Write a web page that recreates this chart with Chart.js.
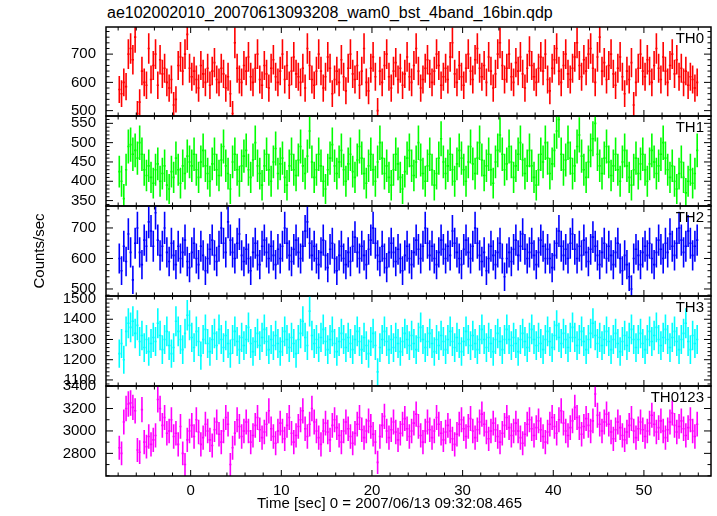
<!DOCTYPE html>
<html>
<head>
<meta charset="utf-8">
<script src="https://cdn.jsdelivr.net/npm/chart.js@4.4.1/dist/chart.umd.min.js"></script>
<style>
  body { margin: 0; background: #fff; }
  #wrap { position: relative; width: 717px; height: 516px; background: #fff; overflow: hidden; }
  #wrap canvas { position: absolute; left: 0; }
  .txt { position: absolute; font: 15px 'Liberation Sans', Arial, sans-serif; line-height: 17px; color: #000; white-space: nowrap; }
</style>
</head>
<body>
<div id="wrap">
  <div class="txt" style="left:107px; top:4px; font-size:16px;">ae102002010_20070613093208_wam0_bst_4band_16bin.qdp</div>
  <canvas id="c0"></canvas>
  <canvas id="c1"></canvas>
  <canvas id="c2"></canvas>
  <canvas id="c3"></canvas>
  <canvas id="c4"></canvas>
  <div class="txt" style="left:257px; top:494px;">Time [sec] 0 = 2007/06/13 09:32:08.465</div>
</div>
<script>
// light curve, 0.25 s bins starting at t = -7.875 s (bin centre)
const binSize = 0.25;
const firstBin = -7.875;

// counts/sec per band (8 bins = 2 s per row)
const th0 = [
  575, 560, 600, 585, 700, 720, 680, 760,
  490, 530, 640, 600, 590, 720, 610, 660,
  700, 590, 680, 630, 650, 600, 580, 610,
  520, 540, 660, 690, 640, 700, 770, 650,
  620, 640, 610, 580, 660, 630, 600, 650,
  590, 640, 670, 610, 600, 650, 630, 580,
  620, 560, 490, 740, 650, 610, 600, 660,
  640, 690, 620, 600, 650, 700, 610, 590,
  660, 630, 580, 650, 680, 620, 600, 640,
  700, 610, 660, 590, 640, 690, 630, 620,
  600, 650, 580, 720, 660, 610, 590, 640,
  700, 640, 580, 620, 690, 650, 560, 610,
  640, 600, 680, 620, 570, 650, 700, 630,
  610, 660, 590, 640, 720, 600, 570, 650,
  690, 620, 500, 640, 600, 660, 700, 620,
  580, 640, 670, 610, 650, 590, 630, 690,
  620, 600, 660, 720, 640, 580, 610, 650,
  680, 630, 600, 640, 700, 660, 590, 620,
  650, 610, 690, 740, 630, 600, 660, 620,
  590, 650, 700, 640, 610, 680, 720, 650,
  620, 660, 600, 690, 640, 580, 630, 700,
  740, 660, 610, 650, 700, 620, 600, 670,
  640, 690, 630, 580, 650, 710, 660, 620,
  600, 650, 690, 640, 700, 610, 570, 650,
  680, 720, 640, 600, 660, 700, 630, 610,
  650, 690, 740, 660, 620, 680, 640, 700,
  720, 650, 600, 690, 760, 640, 670, 610,
  660, 700, 630, 590, 650, 690, 620, 560,
  640, 610, 670, 520, 600, 650, 700, 640,
  620, 680, 640, 600, 660, 720, 650, 610,
  690, 640, 600, 660, 700, 630, 680, 620,
  650, 600, 640, 590, 620, 610, 580, 600
];
const th1 = [
  425, 400, 355, 430, 490, 495, 470, 480,
  460, 500, 470, 430, 415, 440, 410, 395,
  430, 445, 400, 420, 440, 390, 380, 425,
  410, 460, 430, 395, 440, 420, 465, 450,
  440, 470, 430, 410, 450, 480, 440, 420,
  400, 445, 470, 430, 415, 455, 490, 440,
  420, 380, 450, 470, 430, 400, 440, 465,
  480, 430, 410, 455, 500, 440, 420, 390,
  440, 470, 430, 400, 450, 485, 420, 445,
  460, 410, 390, 440, 470, 430, 415, 455,
  490, 440, 420, 465, 530, 450, 410, 430,
  470, 440, 400, 380, 430, 460, 495, 440,
  420, 450, 480, 430, 400, 445, 470, 425,
  410, 455, 490, 460, 420, 395, 440, 470,
  430, 400, 450, 500, 460, 420, 440, 410,
  390, 430, 470, 445, 410, 380, 425, 460,
  480, 440, 415, 450, 500, 455, 420, 400,
  440, 470, 430, 390, 420, 460, 510, 450,
  420, 440, 470, 430, 400, 445, 480, 460,
  430, 400, 450, 490, 445, 420, 460, 500,
  455, 415, 440, 470, 430, 395, 450, 480,
  520, 470, 430, 445, 490, 450, 410, 440,
  470, 500, 455, 420, 440, 480, 440, 410,
  390, 430, 470, 450, 500, 460, 420, 445,
  480, 530, 560, 470, 430, 455, 500, 460,
  420, 440, 490, 520, 465, 430, 410, 450,
  480, 510, 550, 470, 440, 420, 460, 490,
  450, 415, 440, 470, 430, 400, 450, 480,
  440, 410, 390, 430, 460, 420, 445, 470,
  430, 400, 445, 480, 450, 420, 440, 470,
  500, 460, 430, 410, 440, 400, 380, 420,
  450, 410, 370, 400, 430, 395, 420, 480
];
const th2 = [
  600, 560, 640, 590, 680, 620, 530, 650,
  700, 620, 580, 660, 640, 720, 690, 640,
  750, 660, 610, 640, 700, 620, 590, 650,
  610, 580, 640, 600, 620, 660, 590, 570,
  620, 650, 600, 580, 640, 610, 560, 600,
  630, 660, 610, 590, 640, 700, 650, 620,
  720, 660, 620, 600, 650, 680, 610, 590,
  630, 600, 560, 620, 650, 610, 580, 640,
  660, 620, 600, 640, 610, 580, 630, 600,
  640, 700, 650, 610, 590, 630, 660, 620,
  600, 640, 690, 720, 650, 610, 640, 600,
  580, 620, 660, 610, 570, 630, 650, 600,
  560, 610, 640, 600, 580, 620, 590, 640,
  670, 620, 600, 640, 610, 580, 630, 660,
  700, 650, 610, 590, 640, 600, 570, 620,
  650, 620, 590, 630, 600, 560, 610, 640,
  600, 580, 620, 660, 630, 600, 640, 700,
  650, 610, 640, 600, 580, 620, 660, 630,
  600, 640, 610, 690, 650, 620, 600, 580,
  630, 660, 620, 600, 640, 700, 650, 610,
  590, 620, 560, 600, 640, 610, 580, 620,
  650, 600, 540, 600, 620, 590, 630, 660,
  610, 640, 680, 630, 600, 620, 650, 610,
  580, 620, 660, 640, 600, 630, 600, 570,
  610, 650, 690, 640, 610, 630, 600, 650,
  680, 630, 600, 640, 610, 660, 620, 590,
  630, 670, 640, 610, 580, 620, 650, 600,
  640, 610, 580, 620, 650, 600, 560, 610,
  580, 540, 500, 600, 630, 610, 580, 620,
  640, 610, 650, 600, 580, 620, 660, 630,
  600, 650, 620, 680, 640, 610, 650, 700,
  660, 620, 640, 690, 650, 610, 640, 660
];
const th3 = [
  1230, 1280, 1200, 1340, 1380, 1360, 1390, 1330,
  1370, 1290, 1320, 1260, 1300, 1240, 1280, 1310,
  1290, 1380, 1320, 1250, 1300, 1340, 1270, 1230,
  1260, 1390, 1340, 1300, 1250, 1330, 1420, 1370,
  1310, 1260, 1340, 1290, 1220, 1300, 1350, 1280,
  1240, 1300, 1330, 1270, 1350, 1300, 1260, 1320,
  1280, 1230, 1300, 1340, 1290, 1250, 1310, 1270,
  1300, 1360, 1280, 1240, 1290, 1330, 1270, 1310,
  1350, 1290, 1250, 1300, 1270, 1320, 1280, 1240,
  1290, 1340, 1300, 1260, 1310, 1280, 1230, 1300,
  1330, 1390, 1310, 1270, 1440, 1320, 1280, 1300,
  1260, 1310, 1350, 1290, 1250, 1300, 1340, 1280,
  1240, 1290, 1330, 1300, 1260, 1310, 1280, 1250,
  1300, 1340, 1290, 1250, 1310, 1270, 1230, 1290,
  1330, 1270, 1140, 1260, 1300, 1340, 1290, 1250,
  1300, 1260, 1310, 1280, 1240, 1290, 1330, 1300,
  1270, 1320, 1280, 1250, 1310, 1360, 1300, 1260,
  1290, 1330, 1280, 1240, 1300, 1270, 1320, 1290,
  1250, 1300, 1340, 1290, 1260, 1310, 1280, 1240,
  1290, 1340, 1300, 1270, 1320, 1280, 1250, 1300,
  1350, 1300, 1260, 1310, 1280, 1240, 1300, 1330,
  1290, 1250, 1300, 1350, 1300, 1270, 1310, 1280,
  1240, 1300, 1330, 1290, 1260, 1310, 1350, 1300,
  1270, 1310, 1280, 1250, 1300, 1340, 1290, 1260,
  1320, 1370, 1310, 1280, 1330, 1300, 1260, 1310,
  1360, 1310, 1270, 1300, 1340, 1290, 1250, 1300,
  1330, 1380, 1320, 1280, 1310, 1270, 1300, 1340,
  1290, 1250, 1300, 1330, 1280, 1240, 1290, 1320,
  1270, 1310, 1350, 1300, 1260, 1300, 1330, 1280,
  1250, 1300, 1340, 1290, 1320, 1360, 1300, 1270,
  1310, 1350, 1300, 1260, 1310, 1340, 1290, 1250,
  1300, 1330, 1380, 1290, 1250, 1320, 1280, 1300
];
const th0123 = [
  2850, 2800, 3080, 3200, 3240, 3250, 3210, 3180,
  2830, 2810, 3190, 2900, 2860, 2950, 2880, 2920,
  2960, 3280, 3200, 3050, 3120, 2980, 3000, 3100,
  2950, 2980, 2880, 3040, 2800, 2700, 2920, 3000,
  3050, 2950, 3100, 2990, 2880, 2940, 3060, 3000,
  2920, 2870, 3010, 3080, 2970, 2900, 3000, 3120,
  3060, 2700, 2850, 2980, 3100, 3040, 2950, 3000,
  3080, 3000, 2900, 2960, 3050, 3120, 3010, 2940,
  2990, 3060, 3180, 3020, 2950, 2890, 3000, 3070,
  3000, 2930, 3050, 3120, 2980, 2900, 2960, 3040,
  3100, 3180, 3020, 2950, 3060, 3200, 3080, 3000,
  2940, 2880, 3000, 3070, 2990, 2920, 3050, 3100,
  3030, 2960, 2900, 3000, 3080, 3020, 2950, 2890,
  2980, 3060, 3120, 3010, 2940, 3000, 3090, 3040,
  2970, 2900, 2720, 2950, 3050, 3130, 3000, 2940,
  3010, 3080, 2990, 2920, 2980, 3060, 3110, 3020,
  2950, 3000, 3070, 3150, 3040, 2960, 2900, 3000,
  3080, 3010, 2940, 3000, 3120, 3060, 2980, 2920,
  2990, 3050, 3000, 2930, 2880, 2970, 3060, 3100,
  3020, 2950, 3040, 3110, 3000, 2940, 3010, 3080,
  3150, 3060, 2990, 2930, 3000, 3070, 3010, 2950,
  2900, 2980, 3050, 3120, 3030, 2960, 3000, 3070,
  3000, 2940, 2890, 2970, 3060, 3100, 3020, 2960,
  3030, 3090, 3010, 2950, 2900, 2990, 3060, 3120,
  3040, 2980, 3100, 3180, 3070, 3000, 2960, 3030,
  3090, 3210, 3120, 3030, 2970, 3040, 3110, 3050,
  3000, 3090, 3330, 3140, 3060, 3000, 3080, 3150,
  3060, 2990, 2930, 3010, 3080, 3030, 2960, 2920,
  2990, 3050, 3110, 3000, 2940, 3020, 3080, 3010,
  2950, 3000, 3070, 3140, 3060, 2990, 3030, 3090,
  3000, 2940, 3010, 3080, 3160, 3050, 2990, 3040,
  3090, 3020, 2960, 3030, 3100, 3000, 2950, 3060
];

// tick labels
const timeTicks = [0, 10, 20, 30, 40, 50];
const th0Ticks = [500, 600, 700];
const th1Ticks = [350, 400, 450, 500, 550];
const th2Ticks = [500, 600, 700];
const th3Ticks = [1100, 1200, 1300, 1400, 1500];
const th0123Ticks = [2800, 3000, 3200, 3400];

const times = th0.map((v, i) => firstBin + i * binSize);

const panels = [
  { name: 'TH0', values: th0, ticks: th0Ticks, color: '#ff0000', min: 481, max: 796, minor: 20, top: 27, bottom: 116 },
  { name: 'TH1', values: th1, ticks: th1Ticks, color: '#00ff00', min: 336, max: 569, minor: 10, top: 116, bottom: 206 },
  { name: 'TH2', values: th2, ticks: th2Ticks, color: '#0000ff', min: 477, max: 772, minor: 20, top: 206, bottom: 296 },
  { name: 'TH3', values: th3, ticks: th3Ticks, color: '#00ffff', min: 1070, max: 1515, minor: 20, top: 296, bottom: 386 },
  { name: 'TH0123', values: th0123, ticks: th0123Ticks, color: '#ff00ff', min: 2598, max: 3401, minor: 100, top: 386, bottom: 476 }
];

const FONT = "'Liberation Sans', Arial, sans-serif";
const FSIZE = 15;

// one cross per bin: horizontal bar over the bin width, vertical bar = poisson error
const errorBars = {
  id: 'errorBars',
  afterDatasetsDraw(chart) {
    const { ctx, chartArea: a, scales: { x, y } } = chart;
    const ds = chart.data.datasets[0];
    ctx.save();
    ctx.beginPath();
    ctx.rect(a.left, a.top, a.right - a.left, a.bottom - a.top);
    ctx.clip();
    ctx.strokeStyle = ds.borderColor;
    ctx.lineWidth = 1.6;
    ctx.beginPath();
    ds.data.forEach(p => {
      const err = Math.sqrt(p.y / binSize);
      const yc = y.getPixelForValue(p.y);
      const xc = x.getPixelForValue(p.x);
      ctx.moveTo(x.getPixelForValue(p.x - binSize / 2), yc);
      ctx.lineTo(x.getPixelForValue(p.x + binSize / 2), yc);
      ctx.moveTo(xc, y.getPixelForValue(p.y + err));
      ctx.lineTo(xc, y.getPixelForValue(p.y - err));
    });
    ctx.stroke();
    ctx.restore();
  }
};

// frame with inward ticks on all four sides, plus the band name
const frame = {
  id: 'frame',
  afterDraw(chart, args, opts) {
    const { ctx, chartArea: a, scales: { x, y } } = chart;
    ctx.save();
    ctx.strokeStyle = '#000';
    ctx.lineWidth = 1;
    ctx.beginPath();
    for (let v = -8; v <= 56; v += 2) {
      const px = x.getPixelForValue(v);
      const len = v % 10 === 0 ? 6 : 3.5;
      ctx.moveTo(px, a.bottom); ctx.lineTo(px, a.bottom - len);
      ctx.moveTo(px, a.top); ctx.lineTo(px, a.top + len);
    }
    for (let v = Math.ceil(y.min / opts.minor) * opts.minor; v <= y.max; v += opts.minor) {
      const py = y.getPixelForValue(v);
      const len = opts.ticks.includes(v) ? 7 : 3.5;
      ctx.moveTo(a.left, py); ctx.lineTo(a.left + len, py);
      ctx.moveTo(a.right, py); ctx.lineTo(a.right - len, py);
    }
    ctx.stroke();
    ctx.lineWidth = 1.5;
    ctx.strokeRect(a.left, a.top, a.right - a.left, a.bottom - a.top);
    ctx.fillStyle = '#000';
    ctx.font = FSIZE + 'px ' + FONT;
    ctx.textAlign = 'right';
    ctx.fillText(opts.name, a.right - 7, a.top + 16);
    ctx.restore();
  }
};

panels.forEach((p, i) => {
  const last = i === panels.length - 1;
  const pad = 8;
  const canvas = document.getElementById('c' + i);
  const h = last ? 516 - (p.top - pad) : (p.bottom - p.top) + 2 * pad;
  canvas.width = 717;
  canvas.height = h;
  canvas.style.top = (p.top - pad) + 'px';

  new Chart(canvas, {
    type: 'scatter',
    data: {
      datasets: [{
        data: p.values.map((v, k) => ({ x: times[k], y: v })),
        borderColor: p.color,
        pointRadius: 0,
        pointHoverRadius: 0,
        showLine: false
      }]
    },
    options: {
      responsive: false,
      maintainAspectRatio: false,
      animation: false,
      events: [],
      layout: { padding: { top: pad, bottom: last ? 0 : pad, left: 0, right: 6 } },
      plugins: {
        legend: { display: false },
        tooltip: { enabled: false },
        frame: { name: p.name, ticks: p.ticks, minor: p.minor }
      },
      scales: {
        x: {
          type: 'linear',
          min: -9.34,
          max: 57.4,
          display: last,
          grid: { display: false, drawTicks: false },
          border: { display: false },
          afterBuildTicks: s => { s.ticks = timeTicks.map(v => ({ value: v })); },
          afterFit: s => {
            s.height = last ? 40 : 0;
            s.paddingLeft = 0; s.paddingRight = 0;
          },
          ticks: { color: '#000', font: { family: FONT, size: FSIZE }, padding: 6, maxRotation: 0, callback: v => String(v) }
        },
        y: {
          min: p.min,
          max: p.max,
          grid: { display: false, drawTicks: false },
          border: { display: false },
          afterBuildTicks: s => { s.ticks = p.ticks.map(v => ({ value: v })); },
          afterFit: s => {
            s.width = 106;
            s.paddingTop = 0; s.paddingBottom = 0;
          },
          ticks: { color: '#000', font: { family: FONT, size: FSIZE }, padding: 10, callback: v => String(v) },
          title: {
            display: i === 2,
            text: 'Counts/sec',
            color: '#000',
            font: { family: FONT, size: FSIZE },
            padding: { top: 31, bottom: 0 }
          }
        }
      }
    },
    plugins: [errorBars, frame]
  });
});
</script>
</body>
</html>
